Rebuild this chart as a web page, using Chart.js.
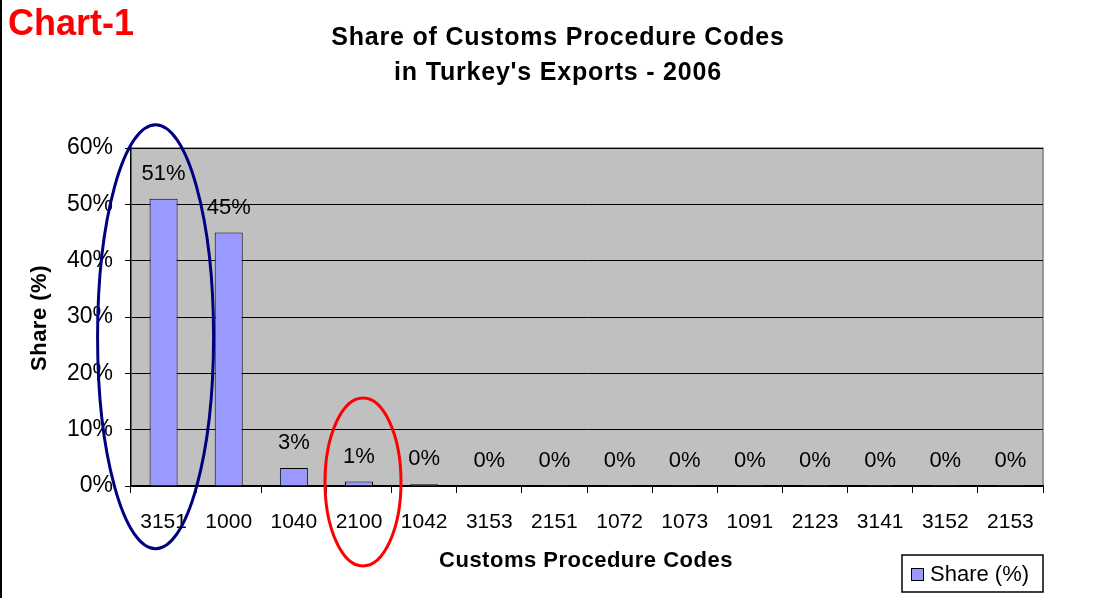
<!DOCTYPE html>
<html>
<head>
<meta charset="utf-8">
<script src="https://cdn.jsdelivr.net/npm/chart.js@4/dist/chart.umd.min.js"></script>
<style>
  body { margin: 0; background: #fff; }
  #wrap { width: 1099px; height: 598px; position: relative; }
</style>
</head>
<body>
<div id="wrap"><canvas id="shareChart" width="1099" height="598"></canvas></div>
<script>
// datos
const codes = ['3151', '1000', '1040', '2100', '1042', '3153', '2151', '1072', '1073', '1091', '2123', '3141', '3152', '2153'];
const shares = [51, 45, 3.2, 0.8, 0.3, 0.05, 0.04, 0.03, 0.03, 0.02, 0.02, 0.01, 0.01, 0.01];
const yTicks = [0, 10, 20, 30, 40, 50, 60];

const FONT = 'Arial, "Liberation Sans", sans-serif';

const decorPlugin = {
    id: 'decor',
    beforeDraw(chart) {
        const ctx = chart.ctx;
        const a = chart.chartArea;
        ctx.save();
        ctx.fillStyle = '#fff';
        ctx.fillRect(0, 0, chart.width, chart.height);
        ctx.fillStyle = '#c0c0c0';
        ctx.fillRect(a.left, a.top, a.right - a.left, a.bottom - a.top);
        ctx.strokeStyle = '#808080';
        ctx.lineWidth = 1.5;
        ctx.beginPath();
        ctx.moveTo(a.left, a.top);
        ctx.lineTo(a.right, a.top);
        ctx.lineTo(a.right, a.bottom);
        ctx.stroke();
        ctx.restore();
    },
    afterDraw(chart) {
        const ctx = chart.ctx;
        const meta = chart.getDatasetMeta(0);
        ctx.save();

        // etiquetas de valores
        ctx.fillStyle = '#000';
        ctx.font = '22px ' + FONT;
        ctx.textAlign = 'center';
        ctx.textBaseline = 'middle';
        meta.data.forEach((bar, i) => {
            ctx.fillText(Math.round(shares[i]) + '%', bar.x, bar.y - 25);
        });

        // titulos
        ctx.font = 'bold 36px ' + FONT;
        ctx.fillStyle = '#ff0000';
        ctx.textAlign = 'left';
        ctx.fillText('Chart-1', 8, 25);

        ctx.fillStyle = '#000';
        ctx.font = 'bold 25px ' + FONT;
        ctx.letterSpacing = '0.8px';
        ctx.textAlign = 'center';
        ctx.fillText('Share of Customs Procedure Codes', 558, 38);
        ctx.fillText("in Turkey's Exports - 2006", 558, 73);

        ctx.font = 'bold 22px ' + FONT;
        ctx.letterSpacing = '0.5px';
        ctx.fillText('Customs Procedure Codes', 586, 561);
        ctx.save();
        ctx.translate(40, 318);
        ctx.rotate(-Math.PI / 2);
        ctx.fillText('Share (%)', 0, 0);
        ctx.restore();
        ctx.letterSpacing = '0px';

        // leyenda
        ctx.strokeStyle = '#000';
        ctx.lineWidth = 1.5;
        ctx.strokeRect(902, 555, 141, 37);
        ctx.fillStyle = '#9999ff';
        ctx.fillRect(911, 568, 12, 12);
        ctx.lineWidth = 1;
        ctx.strokeRect(911.5, 568.5, 12, 12);
        ctx.fillStyle = '#000';
        ctx.font = '22px ' + FONT;
        ctx.textAlign = 'left';
        ctx.fillText('Share (%)', 930, 575);

        // elipses de resaltado
        const yS = chart.scales.y;
        ctx.lineWidth = 3;
        ctx.strokeStyle = '#000080';
        ctx.beginPath();
        ctx.ellipse(meta.data[0].x - 8, yS.getPixelForValue(26.5), 58, 212, 0, 0, Math.PI * 2);
        ctx.stroke();
        ctx.strokeStyle = '#ff0000';
        ctx.beginPath();
        ctx.ellipse(meta.data[3].x + 4, yS.getPixelForValue(0.7), 38, 84, 0, 0, Math.PI * 2);
        ctx.stroke();

        // borde izquierdo de la pagina
        ctx.fillStyle = '#000';
        ctx.fillRect(0, 0, 2, chart.height);
        ctx.restore();
    }
};

new Chart(document.getElementById('shareChart'), {
    type: 'bar',
    data: {
        labels: codes,
        datasets: [{
            label: 'Share (%)',
            data: shares,
            backgroundColor: '#9999ff',
            borderColor: '#000',
            borderWidth: 1,
            barPercentage: 0.43,
            categoryPercentage: 1
        }]
    },
    options: {
        responsive: false,
        animation: false,
        layout: { padding: { left: 0, right: 56, top: 148, bottom: 0 } },
        scales: {
            y: {
                min: 0,
                max: 60,
                afterFit(scale) { scale.width = 131; },
                afterBuildTicks(scale) { scale.ticks = yTicks.map(v => ({ value: v })); },
                ticks: {
                    color: '#000',
                    font: { size: 23, family: FONT },
                    padding: 12,
                    callback: v => v + '%'
                },
                grid: { color: '#000', lineWidth: 1, tickLength: 6, drawTicks: true },
                border: { color: '#000', width: 1.5 }
            },
            x: {
                afterFit(scale) { scale.height = 598 - 486; },
                ticks: {
                    color: '#000',
                    font: { size: 21, family: FONT },
                    padding: 17,
                    maxRotation: 0,
                    autoSkip: false
                },
                grid: { drawOnChartArea: false, color: '#000', tickLength: 7, offset: true },
                border: { color: '#000', width: 1.5 }
            }
        },
        plugins: {
            legend: { display: false },
            tooltip: { enabled: false }
        }
    },
    plugins: [decorPlugin]
});
</script>
</body>
</html>
